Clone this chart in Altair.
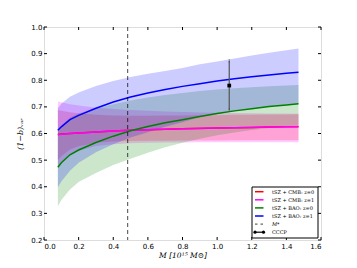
import altair as alt
import pandas as pd

# ---------------- data ----------------
M = [0.08, 0.10, 0.15, 0.20, 0.30, 0.40, 0.50, 0.60, 0.70, 0.80, 0.90, 1.00, 1.10, 1.20, 1.30, 1.40, 1.47]

cmb0_mid = [0.596, 0.598, 0.600, 0.602, 0.606, 0.609, 0.612, 0.614, 0.616, 0.618, 0.619, 0.621, 0.622, 0.623, 0.624, 0.625, 0.625]
cmb0_lo  = [0.500, 0.515, 0.540, 0.552, 0.565, 0.570, 0.572, 0.573, 0.573, 0.574, 0.574, 0.574, 0.575, 0.575, 0.575, 0.575, 0.575]
cmb0_hi  = [0.688, 0.685, 0.680, 0.676, 0.670, 0.668, 0.667, 0.667, 0.668, 0.668, 0.669, 0.669, 0.670, 0.670, 0.671, 0.671, 0.672]

cmb1_mid = [0.595, 0.597, 0.600, 0.602, 0.606, 0.609, 0.612, 0.614, 0.616, 0.618, 0.620, 0.621, 0.622, 0.623, 0.624, 0.625, 0.626]
cmb1_lo  = [0.480, 0.495, 0.520, 0.535, 0.553, 0.560, 0.563, 0.565, 0.566, 0.566, 0.567, 0.567, 0.567, 0.567, 0.567, 0.567, 0.567]
cmb1_hi  = [0.720, 0.717, 0.710, 0.705, 0.697, 0.692, 0.688, 0.685, 0.683, 0.681, 0.679, 0.678, 0.677, 0.676, 0.675, 0.675, 0.674]

bao0_mid = [0.473, 0.490, 0.520, 0.538, 0.566, 0.590, 0.610, 0.626, 0.640, 0.652, 0.664, 0.675, 0.685, 0.693, 0.701, 0.707, 0.712]
bao0_lo  = [0.327, 0.350, 0.390, 0.418, 0.452, 0.482, 0.505, 0.528, 0.548, 0.565, 0.580, 0.593, 0.604, 0.613, 0.621, 0.628, 0.632]
bao0_hi  = [0.615, 0.630, 0.660, 0.675, 0.695, 0.710, 0.724, 0.735, 0.745, 0.752, 0.760, 0.765, 0.770, 0.774, 0.777, 0.780, 0.782]

bao1_mid = [0.612, 0.625, 0.652, 0.668, 0.695, 0.718, 0.737, 0.752, 0.765, 0.777, 0.787, 0.797, 0.806, 0.813, 0.820, 0.826, 0.830]
bao1_lo  = [0.398, 0.420, 0.460, 0.490, 0.530, 0.560, 0.585, 0.605, 0.625, 0.642, 0.662, 0.673, 0.684, 0.693, 0.701, 0.708, 0.712]
bao1_hi  = [0.695, 0.712, 0.738, 0.754, 0.778, 0.797, 0.812, 0.824, 0.835, 0.846, 0.860, 0.870, 0.882, 0.893, 0.903, 0.913, 0.919]

series_names  = ["tSZ + CMB: z=0", "tSZ + CMB: z=1", "tSZ + BAO: z=0", "tSZ + BAO: z=1"]
series_colors = ["#ff0000", "#ff00ff", "#008000", "#0000ff"]
series_data = [(cmb0_lo, cmb0_mid, cmb0_hi), (cmb1_lo, cmb1_mid, cmb1_hi),
               (bao0_lo, bao0_mid, bao0_hi), (bao1_lo, bao1_mid, bao1_hi)]

M_star = [0.483]
cccp_M = [1.07]
cccp_val = [0.780]
cccp_lo = [0.688]
cccp_hi = [0.872]

x_ticks = [0.0, 0.2, 0.4, 0.6, 0.8, 1.0, 1.2, 1.4, 1.6]
y_ticks = [0.2, 0.3, 0.4, 0.5, 0.6, 0.7, 0.8, 0.9, 1.0]

legend_labels = series_names + ["M*", "CCCP"]

# ---------------- chart ----------------
W, H = 277, 213
xscale = alt.Scale(domain=[0, 1.6], nice=False, zero=False)
yscale = alt.Scale(domain=[0.2, 1.0], nice=False, zero=False)
xaxis = alt.Axis(values=x_ticks, format=".1f", ticks=False, domain=False, grid=False,
                 labelFontSize=7, labelPadding=2, labelColor="black", labelFont="DejaVu Sans",
                 title="M [10¹⁵ M⊙]", titleFont="DejaVu Serif", titleFontStyle="italic",
                 titleFontWeight="normal", titleFontSize=7.5, titlePadding=2, titleColor="black")
yaxis = alt.Axis(values=y_ticks, format=".1f", ticks=False, domain=False, grid=False,
                 labelFontSize=7, labelPadding=2, labelColor="black", labelFont="DejaVu Sans",
                 title="(1−b)ᵥₐᵣ", titleFont="DejaVu Serif", titleFontStyle="italic",
                 titleFontWeight="normal", titleFontSize=8, titlePadding=6, titleColor="black")


def X(field):
    return alt.X(field, type="quantitative", scale=xscale, axis=xaxis)


def Y(field):
    return alt.Y(field, type="quantitative", scale=yscale, axis=yaxis)


layers = []
dfs = []
for (lo, mid, hi), name in zip(series_data, series_names):
    dfs.append(pd.DataFrame({"M": M, "lo": lo, "mid": mid, "hi": hi, "s": name}))

for df, col in zip(dfs, series_colors):
    layers.append(alt.Chart(df).mark_area(color=col, opacity=0.2, clip=True).encode(
        x=X("M"), y=Y("lo"), y2=alt.Y2("hi")))

for df, col in zip(dfs, series_colors):
    layers.append(alt.Chart(df).mark_line(color=col, strokeWidth=1.5, clip=True).encode(
        x=X("M"), y=Y("mid")))

# M* dashed vertical line
mstar_df = pd.DataFrame({"M": M_star})
layers.append(alt.Chart(mstar_df).mark_rule(color="black", opacity=0.6, strokeWidth=1.2,
                                            strokeDash=[4, 3]).encode(
    x=X("M"), y=alt.value(0), y2=alt.value(H)))

# CCCP point with errorbar
cccp_df = pd.DataFrame({"M": cccp_M, "v": cccp_val, "lo": cccp_lo, "hi": cccp_hi})
layers.append(alt.Chart(cccp_df).mark_rule(color="#555555", strokeWidth=1.2).encode(
    x=X("M"), y=Y("lo"), y2=alt.Y2("hi")))
layers.append(alt.Chart(cccp_df).mark_tick(color="#555555", thickness=1, size=4).encode(
    x=X("M"), y=Y("lo")))
layers.append(alt.Chart(cccp_df).mark_tick(color="#555555", thickness=1, size=4).encode(
    x=X("M"), y=Y("hi")))
layers.append(alt.Chart(cccp_df).mark_point(shape="square", filled=True, color="black",
                                            size=14, opacity=1).encode(
    x=X("M"), y=Y("v")))

# inward ticks on all four sides
xt = pd.DataFrame({"t": x_ticks})
yt = pd.DataFrame({"t": y_ticks})
TL = 3
layers.append(alt.Chart(xt).mark_rule(color="black", strokeWidth=1).encode(
    x=X("t"), y=alt.value(H), y2=alt.value(H - TL)))
layers.append(alt.Chart(xt).mark_rule(color="black", strokeWidth=1).encode(
    x=X("t"), y=alt.value(0), y2=alt.value(TL)))
layers.append(alt.Chart(yt).mark_rule(color="black", strokeWidth=1).encode(
    y=Y("t"), x=alt.value(0), x2=alt.value(TL)))
layers.append(alt.Chart(yt).mark_rule(color="black", strokeWidth=1).encode(
    y=Y("t"), x=alt.value(W), x2=alt.value(W - TL)))

# legend (drawn manually)
LX0, LX1, LY0, LY1 = 208, 274, 160, 211
row0, drow = 164.7, 8.1
sym0, sym1, txt = 211, 219.5, 228
dummy = pd.DataFrame({"a": [0]})
layers.append(alt.Chart(dummy).mark_rect(fill="white", stroke="black", strokeWidth=1).encode(
    x=alt.value(LX0), x2=alt.value(LX1), y=alt.value(LY0), y2=alt.value(LY1)))
for i, lab in enumerate(legend_labels):
    yy = row0 + drow * i
    if i < 4:
        layers.append(alt.Chart(dummy).mark_rule(color=series_colors[i], strokeWidth=1.5).encode(
            x=alt.value(sym0), x2=alt.value(sym1), y=alt.value(yy)))
    elif i == 4:
        layers.append(alt.Chart(dummy).mark_rule(color="black", opacity=0.6, strokeWidth=1.2,
                                                 strokeDash=[2.5, 3]).encode(
            x=alt.value(sym0), x2=alt.value(sym1), y=alt.value(yy)))
    else:
        layers.append(alt.Chart(dummy).mark_rule(color="black", strokeWidth=1.2).encode(
            x=alt.value(sym0), x2=alt.value(sym1), y=alt.value(yy)))
        for sx in (sym0, sym1):
            layers.append(alt.Chart(dummy).mark_point(shape="circle", filled=True, color="black",
                                                      size=10, opacity=1).encode(
                x=alt.value(sx), y=alt.value(yy)))
    layers.append(alt.Chart(pd.DataFrame({"lab": [lab]})).mark_text(
        align="left", baseline="middle", fontSize=5, font="DejaVu Serif", color="black",
        fontStyle="italic" if i == 4 else "normal").encode(
        x=alt.value(txt), y=alt.value(yy), text="lab:N"))

chart = alt.layer(*layers).properties(
    width=W, height=H,
    autosize=alt.AutoSizeParams(type="none"),
    padding={"left": 36, "top": 19, "right": 20, "bottom": 20},
).configure_view(stroke="black", strokeWidth=1).configure(background="white")

chart.save("out.html", embed_options={"renderer": "svg", "actions": False})
